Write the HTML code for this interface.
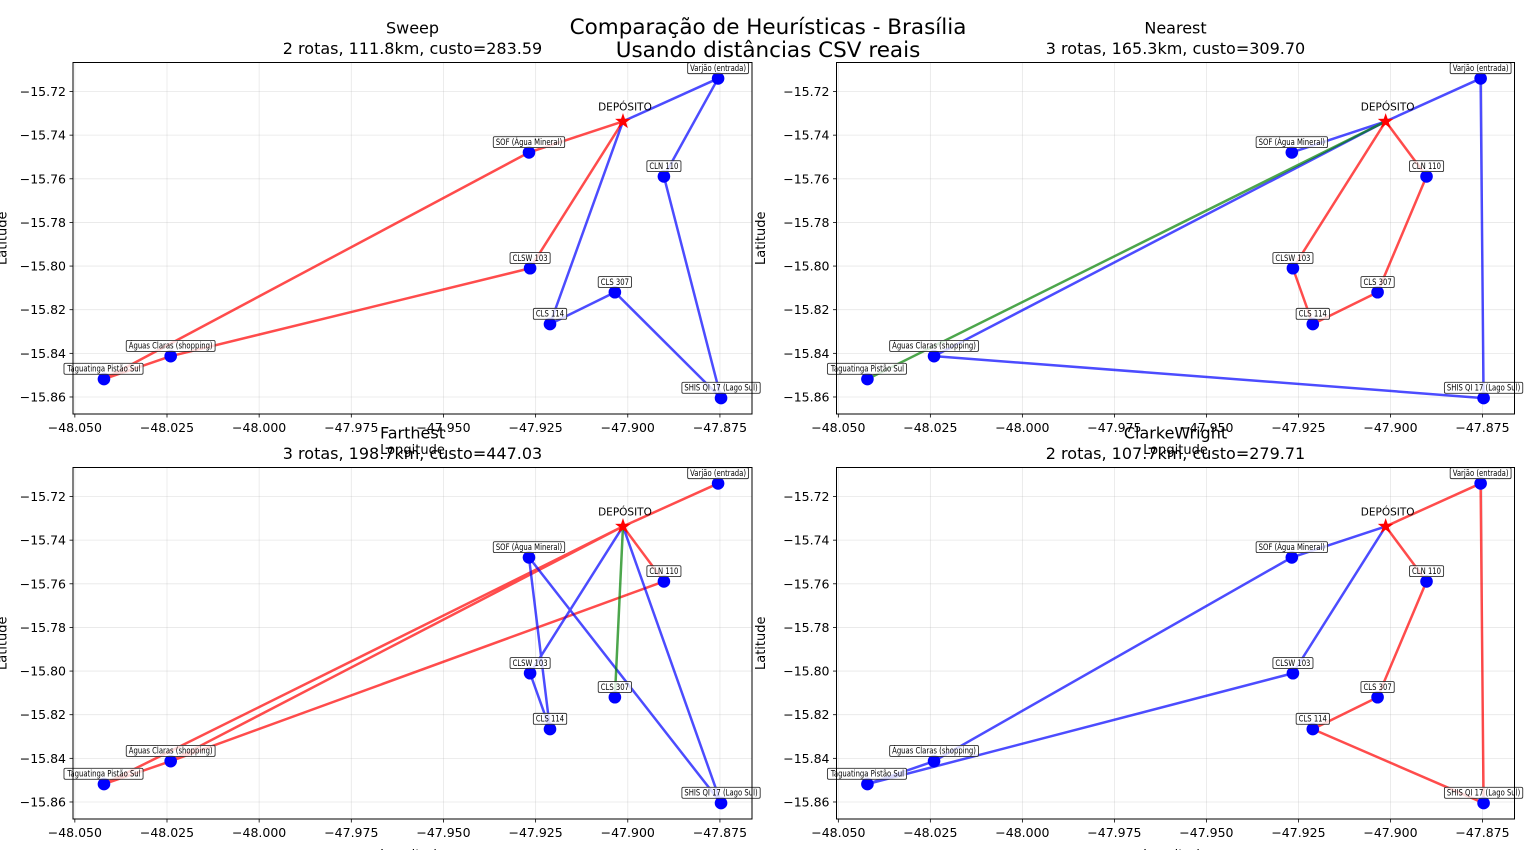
<!DOCTYPE html>
<html><head><meta charset="utf-8"><style>
html,body{margin:0;padding:0;background:#fff;width:1536px;height:850px;overflow:hidden}
svg{display:block;font-family:"DejaVu Sans","Liberation Sans",sans-serif}
</style></head><body>
<svg id="fig" width="1536" height="850" viewBox="0 0 1536 850">
<text x="768" y="34" font-size="21.5" text-anchor="middle">Comparação de Heurísticas - Brasília</text>
<text x="768" y="57" font-size="21.5" text-anchor="middle">Usando distâncias CSV reais</text>
</svg>
<script>
const names = ["Varjão (entrada)","SOF (Água Mineral)","CLN 110","CLSW 103","CLS 307","CLS 114","Águas Claras (shopping)","Taguatinga Pistão Sul","SHIS QI 17 (Lago Sul)"];
const lons = [-47.8755,-47.9268,-47.8902,-47.9265,-47.9035,-47.9211,-48.0240,-48.0421,-47.8747];
const lats = [-15.7140,-15.7479,-15.7589,-15.8010,-15.8120,-15.8266,-15.8413,-15.8518,-15.8605];
const depot = [-47.9013,-15.7337];
const xTicks = [-48.050,-48.025,-48.000,-47.975,-47.950,-47.925,-47.900,-47.875];
const yTicks = [-15.72,-15.74,-15.76,-15.78,-15.80,-15.82,-15.84,-15.86];
const panelTitles = ["Sweep","Nearest","Farthest","ClarkeWright"];
const panelSubtitles = ["2 rotas, 111.8km, custo=283.59","3 rotas, 165.3km, custo=309.70","3 rotas, 198.7km, custo=447.03","2 rotas, 107.7km, custo=279.71"];
// -1 = depot, otherwise index into names
const sweepRoutes = [[-1,1,7,6,3,-1],[-1,0,2,8,4,5,-1]];
const nearestRoutes = [[-1,2,4,5,3,-1],[-1,1,-1,0,8,6,-1],[-1,7,-1]];
const farthestRoutes = [[-1,0,-1,7,-1,6,-1,7,6,2,-1],[-1,8,1,5,3,-1],[-1,4,-1]];
const clarkeRoutes = [[-1,1,6,7,3,-1],[-1,0,8,5,4,2,-1]];
const allRoutes = [sweepRoutes,nearestRoutes,farthestRoutes,clarkeRoutes];
const routeColors = [["#ff0000","#0000ff"],["#ff0000","#0000ff","#008000"],["#ff0000","#0000ff","#008000"],["#0000ff","#ff0000"]];

const NS="http://www.w3.org/2000/svg";
const svg=document.getElementById('fig');
function mk(tag,attrs,parent){const e=document.createElementNS(NS,tag);for(const k in attrs)e.setAttribute(k,attrs[k]);(parent||svg).appendChild(e);return e;}

const panels=[
 {x0:73,y0:62.5,x1:752,y1:414,xmin:-48.0505,xmax:-47.8663,ymin:-15.8678,ymax:-15.7067,slug:"sweep",yl:71},
 {x0:836.5,y0:62.5,x1:1514.5,y1:414,xmin:-48.0505,xmax:-47.8663,ymin:-15.8678,ymax:-15.7067,slug:"nearest",yl:76},
 {x0:73,y0:467.5,x1:752,y1:819,xmin:-48.0505,xmax:-47.8663,ymin:-15.8678,ymax:-15.7067,slug:"farthest",yl:71},
 {x0:836.5,y0:467.5,x1:1514.5,y1:819,xmin:-48.0505,xmax:-47.8663,ymin:-15.8678,ymax:-15.7067,slug:"clarkewright",yl:76}
];

panels.forEach((p,pi)=>{
 const sx=v=>p.x0+(v-p.xmin)/(p.xmax-p.xmin)*(p.x1-p.x0);
 const sy=v=>p.y1-(v-p.ymin)/(p.ymax-p.ymin)*(p.y1-p.y0);
 const g=mk('g',{});
 
 
 xTicks.forEach(t=>{const X=sx(t);
  const l=mk('line',{x1:X,x2:X,y1:p.y0,y2:p.y1,stroke:'#b0b0b0','stroke-opacity':0.3,'stroke-width':0.8},g);
  
  
  const tk=mk('line',{x1:X,x2:X,y1:p.y1,y2:p.y1+3.5,stroke:'#000','stroke-width':0.8},g);
  
  
  const tx=mk('text',{x:X,y:p.y1+18,'font-size':12.5,'text-anchor':'middle'},g);
  tx.textContent='\u2212'+Math.abs(t).toFixed(3);
  
  
 });
 yTicks.forEach(t=>{const Y=sy(t);
  const l=mk('line',{x1:p.x0,x2:p.x1,y1:Y,y2:Y,stroke:'#b0b0b0','stroke-opacity':0.3,'stroke-width':0.8},g);
  
  
  const tk=mk('line',{x1:p.x0-3.5,x2:p.x0,y1:Y,y2:Y,stroke:'#000','stroke-width':0.8},g);
  
  
  const tx=mk('text',{x:p.x0-7,y:Y+4.5,'font-size':12.5,'text-anchor':'end'},g);
  tx.textContent='\u2212'+Math.abs(t).toFixed(2);
  
  
 });
 allRoutes[pi].forEach((r,ri)=>{
  const pts=r.map(i=>i<0?[sx(depot[0]),sy(depot[1])]:[sx(lons[i]),sy(lats[i])]);
  const pl=mk('polyline',{points:pts.map(q=>q.join(',')).join(' '),fill:'none',stroke:routeColors[pi][ri],'stroke-opacity':0.7,'stroke-width':2.5,'stroke-linejoin':'round'},g);
  
  
 });
 names.forEach((n,i)=>{
  const X=sx(lons[i]),Y=sy(lats[i]);
  const c=mk('circle',{cx:X,cy:Y,r:6.3,fill:'#0000ff'},g);
  
  
  const lg=mk('g',{},g);
  
  
  const rect=mk('rect',{fill:'#fff','fill-opacity':0.8,stroke:'#333','stroke-width':0.9,rx:1.5},lg);
  const t=mk('text',{x:0,y:0,'font-size':8.6,'text-anchor':'middle',transform:'translate('+X+','+(Y-7.5)+') scale(0.8,1)'},lg);
  t.textContent=n;
  const b=t.getBBox();
  rect.setAttribute('x',X+b.x*0.8-2.5);rect.setAttribute('y',Y-7.5+b.y-0.5);
  rect.setAttribute('width',b.width*0.8+5);rect.setAttribute('height',b.height+1);
 });
 const DX=sx(depot[0]),DY=sy(depot[1]);
 let s='';for(let k=0;k<10;k++){const a=-Math.PI/2+k*Math.PI/5;const rr=k%2?3.3:8.3;s+=(DX+rr*Math.cos(a))+','+(DY+rr*Math.sin(a))+' ';}
 const st=mk('polygon',{points:s,fill:'#ff0000'},g);
 
 
 const dt=mk('text',{x:DX+2,y:DY-11,'font-size':10.5,'text-anchor':'middle'},g);
 dt.textContent='DEPÓSITO';
 
 
 const fr=mk('rect',{x:p.x0,y:p.y0,width:p.x1-p.x0,height:p.y1-p.y0,fill:'none',stroke:'#000','stroke-width':1},g);
 
 
 const cx=(p.x0+p.x1)/2;
 const t1=mk('text',{x:cx,y:p.y0-29,'font-size':16,'text-anchor':'middle'},g);
 t1.textContent=panelTitles[pi];
 
 
 const t2=mk('text',{x:cx,y:p.y0-8.5,'font-size':16,'text-anchor':'middle'},g);
 t2.textContent=panelSubtitles[pi];
 
 
 const xl=mk('text',{x:cx,y:p.y1+40,'font-size':13,'text-anchor':'middle'},g);
 xl.textContent='Longitude';
 
 
 const ymid=(p.y0+p.y1)/2;
 const yl=mk('text',{x:0,y:0,'font-size':13,'text-anchor':'middle',transform:'translate('+(p.x0-p.yl+4.5)+','+ymid+') rotate(-90)'},g);
 yl.textContent='Latitude';
 
 
});
</script>
</body></html>
